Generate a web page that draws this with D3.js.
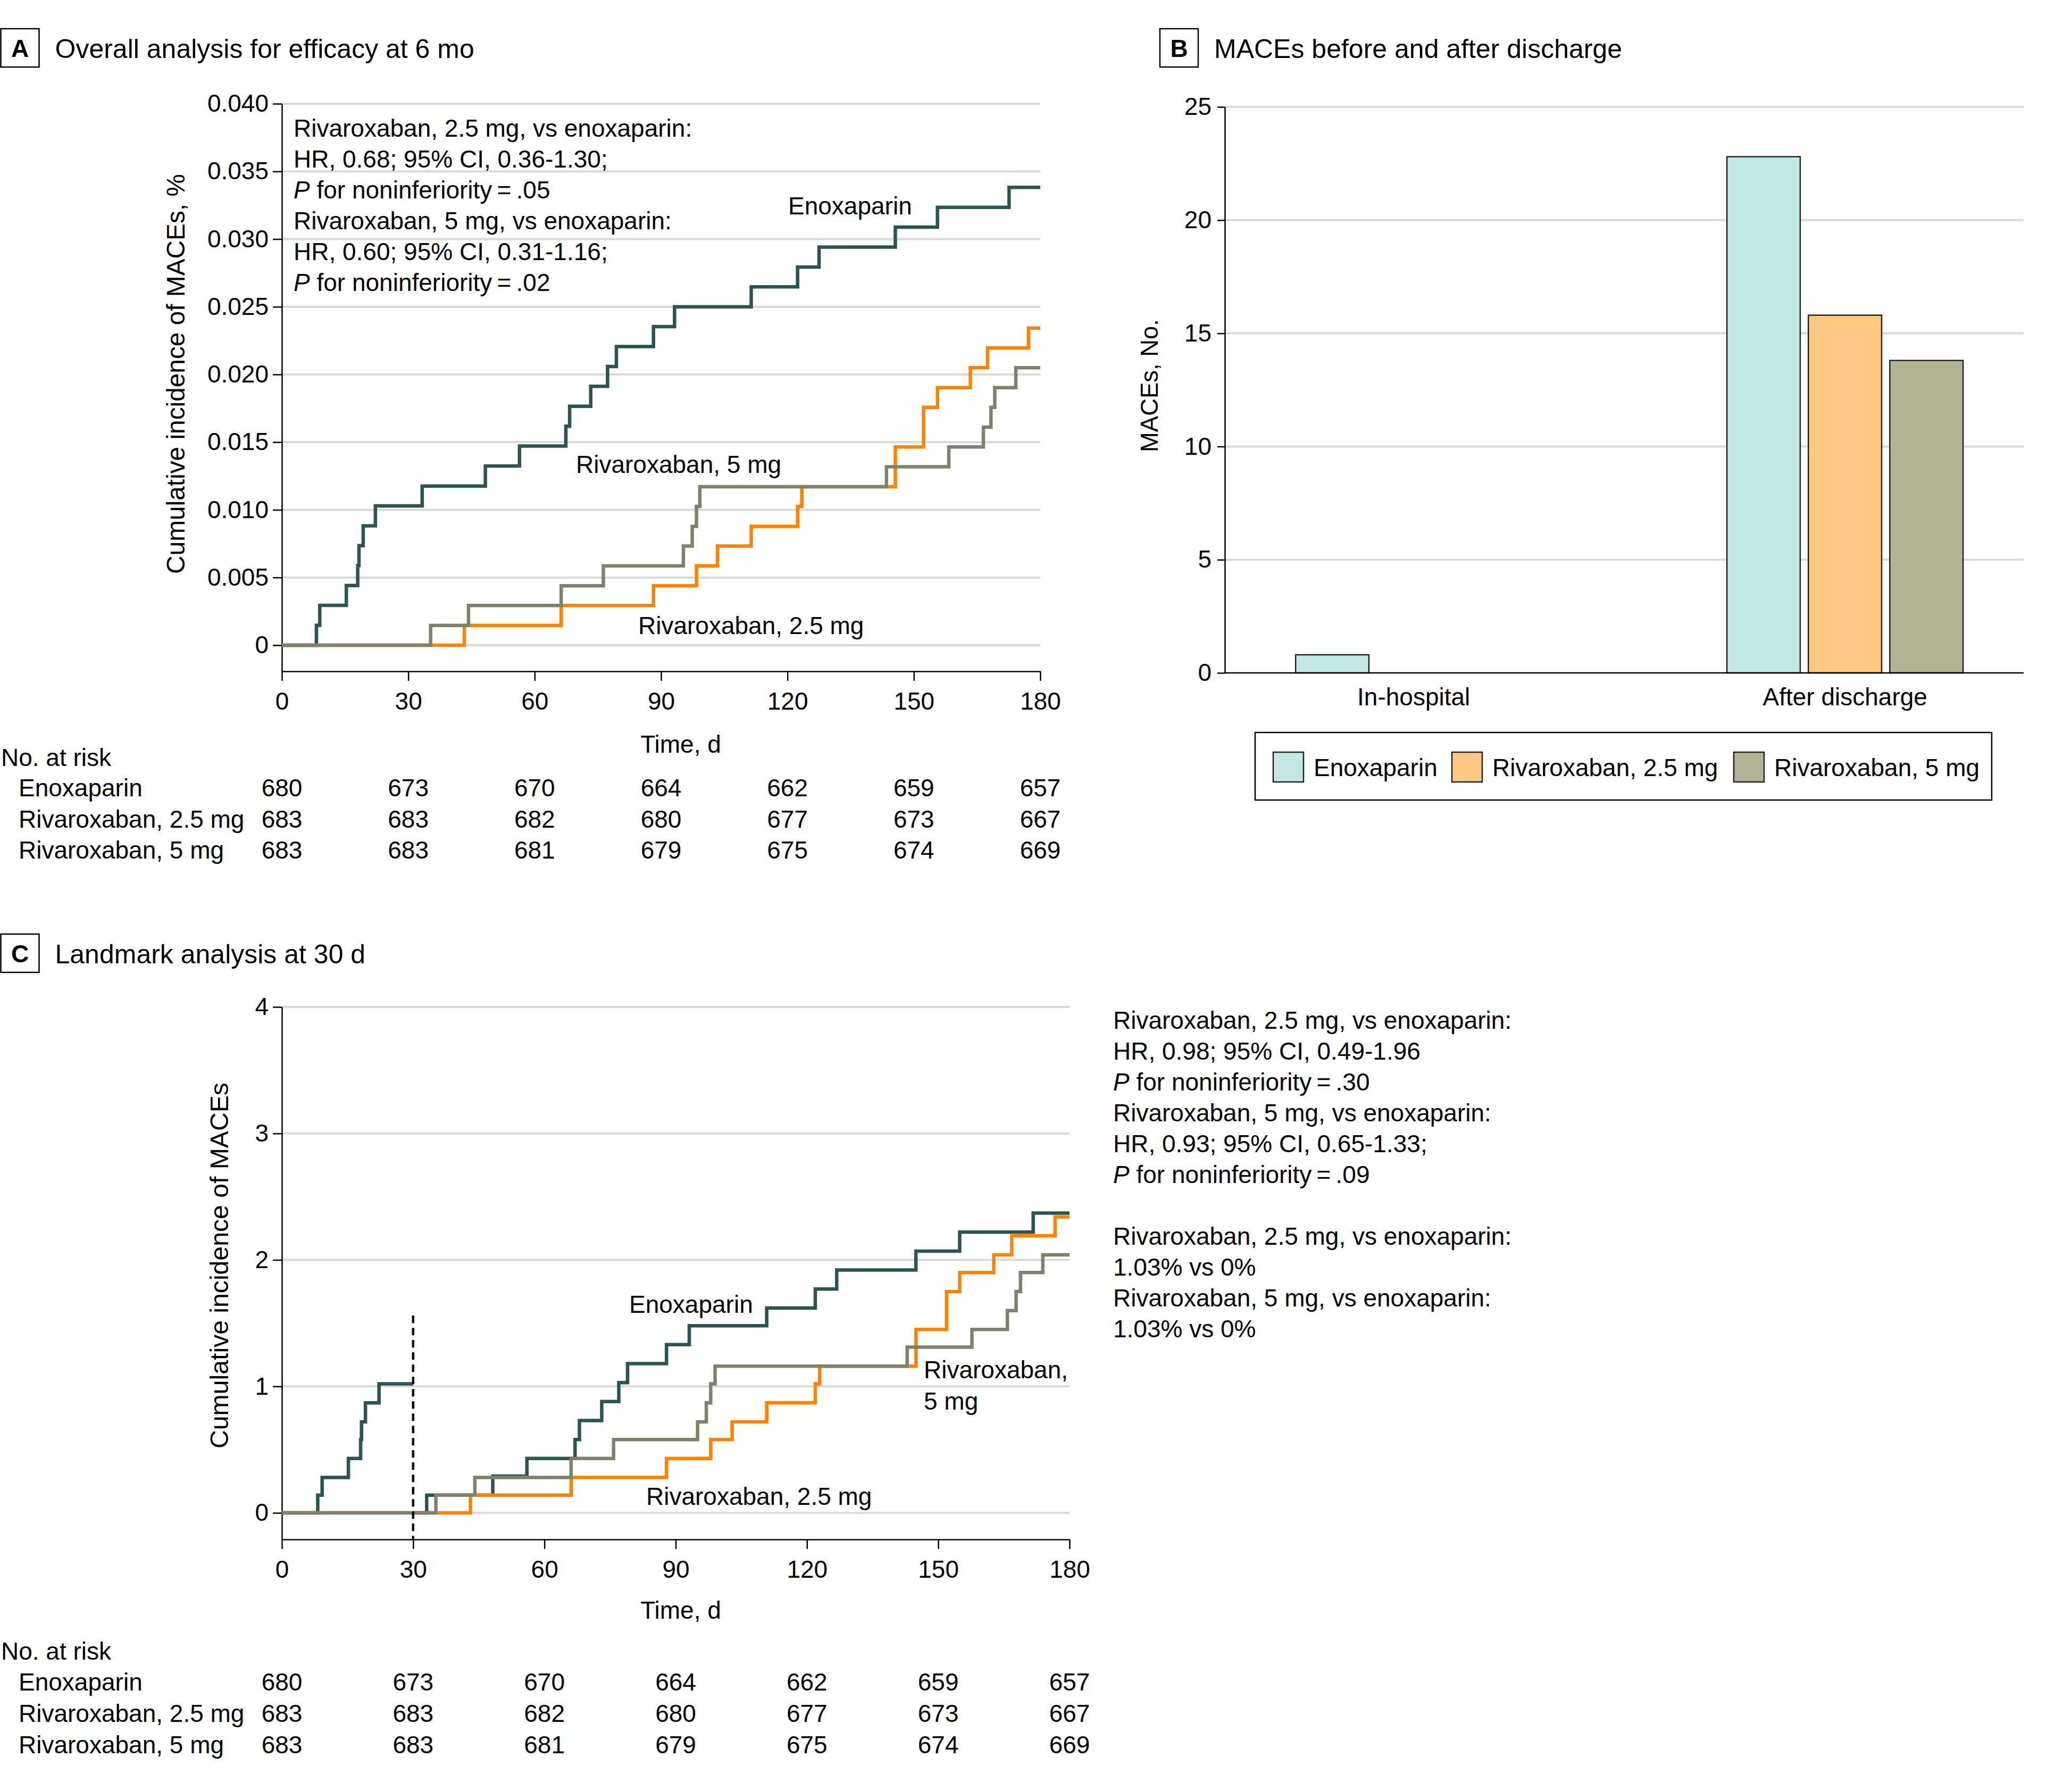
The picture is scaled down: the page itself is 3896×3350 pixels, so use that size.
<!DOCTYPE html>
<html><head><meta charset="utf-8">
<script src="https://cdn.jsdelivr.net/npm/d3@7"></script>
<style>
body{margin:0;background:#fff}
svg{display:block}
</style></head><body>
<svg id="chart" width="3896" height="3350"></svg>
<script>
// ---------------- DATA ----------------
const groups = ["Enoxaparin", "Rivaroxaban, 2.5 mg", "Rivaroxaban, 5 mg"];
const riskDays = [0, 30, 60, 90, 120, 150, 180];
const riskEnox = [680, 673, 670, 664, 662, 659, 657];
const riskRiv25 = [683, 683, 682, 680, 677, 673, 667];
const riskRiv5 = [683, 683, 681, 679, 675, 674, 669];

const yTicksA = [0, 0.005, 0.010, 0.015, 0.020, 0.025, 0.030, 0.035, 0.040];
const yTickLabelsA = ["0", "0.005", "0.010", "0.015", "0.020", "0.025", "0.030", "0.035", "0.040"];
const yTicksC = [0, 1, 2, 3, 4];
const yTicksB = [0, 5, 10, 15, 20, 25];

// Panel A step curves (day of event, cumulative incidence after it)
const enoxA_t = [0, 8.2, 9.0, 15.3, 18.0, 18.3, 19.3, 22.2, 33.3, 48.3, 56.4, 67.4, 68.3, 73.3, 77.3, 79.4, 88.2, 93.2, 111.4, 122.4, 127.5, 145.6, 155.6, 172.6, 180];
const enoxA_v = [0, 0.00147, 0.00294, 0.00441, 0.00588, 0.00735, 0.00882, 0.01029, 0.01176, 0.01324, 0.01471, 0.01618, 0.01765, 0.01912, 0.02059, 0.02206, 0.02353, 0.02500, 0.02647, 0.02794, 0.02941, 0.03088, 0.03235, 0.03382, 0.03382];
const riv25A_t = [0, 43.3, 66.3, 88.2, 98.4, 103.4, 111.4, 122.4, 123.4, 145.6, 152.3, 155.6, 163.4, 167.5, 177.2, 180];
const riv25A_v = [0, 0.00146, 0.00293, 0.00439, 0.00586, 0.00732, 0.00878, 0.01025, 0.01171, 0.01464, 0.01757, 0.01903, 0.02050, 0.02196, 0.02343, 0.02343];
const riv5A_t = [0, 35.3, 44.3, 66.3, 76.3, 95.3, 97.4, 98.4, 99.2, 143.5, 158.3, 166.5, 168.3, 169.2, 174.2, 180];
const riv5A_v = [0, 0.00146, 0.00293, 0.00439, 0.00586, 0.00732, 0.00878, 0.01025, 0.01171, 0.01318, 0.01464, 0.01611, 0.01757, 0.01903, 0.02050, 0.02050];

// Panel C landmark curves
const enoxC1_t = [0, 8.2, 9.2, 15.2, 18.0, 18.2, 19.1, 22.2, 30];
const enoxC1_v = [0, 0.14, 0.28, 0.43, 0.58, 0.72, 0.87, 1.02, 1.02];
const enoxC2_t = [30, 33.1, 48.2, 56.0, 67.0, 68.0, 73.1, 77.0, 79.0, 87.9, 93.1, 110.8, 121.9, 126.8, 144.9, 154.9, 171.7, 180];
const enoxC2_v = [0, 0.14, 0.29, 0.43, 0.58, 0.73, 0.88, 1.03, 1.18, 1.33, 1.48, 1.62, 1.77, 1.92, 2.07, 2.22, 2.37, 2.37];
const riv25C_t = [0, 43.1, 66.1, 87.9, 98.0, 102.9, 110.8, 121.9, 122.9, 144.9, 151.9, 154.9, 162.7, 166.8, 176.7, 180];
const riv25C_v = [0, 0.14, 0.28, 0.43, 0.58, 0.72, 0.87, 1.02, 1.16, 1.45, 1.75, 1.90, 2.04, 2.19, 2.34, 2.34];
const riv5C_t = [0, 35.2, 44.1, 66.1, 75.8, 95.0, 97.0, 98.0, 99.0, 142.9, 157.7, 165.8, 167.8, 168.8, 173.9, 180];
const riv5C_v = [0, 0.14, 0.28, 0.43, 0.58, 0.72, 0.87, 1.02, 1.16, 1.31, 1.45, 1.60, 1.75, 1.90, 2.04, 2.04];
const landmarkDay = 30;
const landmarkTop = 1.56;

// Panel B bars
const barCategories = ["In-hospital", "After discharge"];
const barEnox = [0.8, 22.8];
const barRiv25 = [0, 15.8];
const barRiv5 = [0, 13.8];

// Text
const annotA = [
  ["", "Rivaroxaban, 2.5 mg, vs enoxaparin:"],
  ["", "HR, 0.68; 95% CI, 0.36-1.30;"],
  ["P", " for noninferiority\u2009=\u2009.05"],
  ["", "Rivaroxaban, 5 mg, vs enoxaparin:"],
  ["", "HR, 0.60; 95% CI, 0.31-1.16;"],
  ["P", " for noninferiority\u2009=\u2009.02"]
];
const annotC = [
  ["", "Rivaroxaban, 2.5 mg, vs enoxaparin:"],
  ["", "HR, 0.98; 95% CI, 0.49-1.96"],
  ["P", " for noninferiority\u2009=\u2009.30"],
  ["", "Rivaroxaban, 5 mg, vs enoxaparin:"],
  ["", "HR, 0.93; 95% CI, 0.65-1.33;"],
  ["P", " for noninferiority\u2009=\u2009.09"],
  null,
  ["", "Rivaroxaban, 2.5 mg, vs enoxaparin:"],
  ["", "1.03% vs 0%"],
  ["", "Rivaroxaban, 5 mg, vs enoxaparin:"],
  ["", "1.03% vs 0%"]
];

// ---------------- STYLE ----------------
const FONT = '"Liberation Sans", Arial, sans-serif';
const FONT_AX = '"Liberation Sans Narrow", "Liberation Sans", Arial, sans-serif';
const FS = 46;
const colLine = {enox: "#2b5552", r25: "#ff8200", r5: "#80806b"};
const colBar = ["#c2e7e4", "#fec883", "#b1b394"];
const GRID = "#d9d9d9";
const LW = 6.5;

const svg = d3.select("#chart");
svg.append("rect").attr("width", 3896).attr("height", 3350).attr("fill", "#fff");

function txt(g, x, y, s, o = {}) {
  const t = g.append("text").attr("x", x).attr("y", y).attr("dy", o.dy ?? "0.35em")
    .attr("font-family", o.family || FONT).attr("font-size", o.size || FS)
    .attr("fill", "#000").attr("text-anchor", o.anchor || "start");
  if (o.weight) t.attr("font-weight", o.weight);
  if (o.rotate) t.attr("transform", `rotate(-90,${x},${y})`);
  t.text(s);
  return t;
}
// axis title: font size chosen so the rendered length matches the reference span
function axisTitle(g, x, y, s, span) {
  const t = txt(g, x, y, s, {anchor: "middle", rotate: true, family: FONT_AX, size: 50});
  const L = t.node().getComputedTextLength();
  if (L > 0) t.attr("font-size", 50 * span / L);
  return t;
}
function panelTitle(x, y, letter, title) {
  svg.append("rect").attr("x", x).attr("y", y).attr("width", 72).attr("height", 72)
    .attr("fill", "none").attr("stroke", "#000").attr("stroke-width", 2.5);
  txt(svg, x + 36, y + 37, letter, {anchor: "middle", weight: "bold", size: 46});
  txt(svg, x + 102, y + 37, title, {size: 50});
}
function zip(t, v) { return t.map((d, i) => [d, v[i]]); }

function styleAxis(sel) {
  sel.selectAll("path.domain").attr("stroke", "#000").attr("stroke-width", 2.5);
  sel.selectAll(".tick line").attr("stroke", "#000").attr("stroke-width", 2.5);
  sel.selectAll(".tick text").attr("font-family", FONT).attr("font-size", FS).attr("fill", "#000");
}

function kmPanel(cfg) {
  const g = svg.append("g");
  const x = d3.scaleLinear().domain([0, 180]).range([cfg.x0, cfg.x1]);
  const y = d3.scaleLinear().domain(cfg.ydom).range([cfg.yb, cfg.yt]);
  g.selectAll("line.grid").data(cfg.yticks).join("line")
    .attr("x1", x(0)).attr("x2", x(180)).attr("y1", d => y(d)).attr("y2", d => y(d))
    .attr("stroke", GRID).attr("stroke-width", 4);
  const ya = g.append("g").attr("transform", `translate(${x(0)},0)`)
    .call(d3.axisLeft(y).tickValues(cfg.yticks).tickFormat((d, i) => cfg.ylabels[i]).tickSize(17).tickPadding(8).tickSizeOuter(0));
  styleAxis(ya);
  const xa = g.append("g").attr("transform", `translate(0,${cfg.yb})`)
    .call(d3.axisBottom(x).tickValues(riskDays).tickFormat(d3.format("d")).tickSize(18).tickPadding(21).tickSizeOuter(0));
  styleAxis(xa);
  const line = d3.line().x(d => x(d[0])).y(d => y(d[1])).curve(d3.curveStepAfter);
  cfg.series.forEach(s => {
    g.append("path").datum(s.data).attr("d", line).attr("fill", "none")
      .attr("stroke", s.color).attr("stroke-width", LW).attr("stroke-linejoin", "miter").attr("stroke-linecap", "butt");
  });
  if (cfg.landmark) {
    g.append("line").attr("x1", x(landmarkDay)).attr("x2", x(landmarkDay))
      .attr("y1", y(landmarkTop)).attr("y2", cfg.yb)
      .attr("stroke", "#000").attr("stroke-width", 4.5).attr("stroke-dasharray", "14,9");
  }
  axisTitle(g, cfg.ylabX, cfg.ylabY, cfg.ylab, cfg.ylabSpan);
  txt(g, cfg.xlabX, cfg.xlabY, "Time, d", {anchor: "middle"});
  txt(g, 2, cfg.riskY[0], "No. at risk");
  const rows = [riskEnox, riskRiv25, riskRiv5];
  rows.forEach((r, i) => {
    txt(g, 35, cfg.riskY[i + 1], groups[i]);
    r.forEach((v, j) => txt(g, x(riskDays[j]), cfg.riskY[i + 1], v, {anchor: "middle"}));
  });
  cfg.labels.forEach(l => txt(g, l[0], l[1], l[2]));
  cfg.annot.forEach((a, i) => {
    if (!a) return;
    const t = g.append("text").attr("x", cfg.annotX).attr("y", cfg.annotY + i * cfg.annotDY).attr("dy", "0.35em")
      .attr("font-family", FONT).attr("font-size", FS).attr("fill", "#000");
    if (a[0]) t.append("tspan").attr("font-style", "italic").text(a[0]);
    t.append("tspan").text(a[1]);
  });
  return {x, y};
}

// Panel A
panelTitle(1.5, 54, "A", "Overall analysis for efficacy at 6 mo");
kmPanel({
  x0: 530, x1: 1956, yb: 1262, yt: 195, ydom: [-0.00193, 0.04],
  yticks: yTicksA, ylabels: yTickLabelsA,
  series: [
    {data: zip(enoxA_t, enoxA_v), color: colLine.enox},
    {data: zip(riv25A_t, riv25A_v), color: colLine.r25},
    {data: zip(riv5A_t, riv5A_v), color: colLine.r5}
  ],
  ylab: "Cumulative incidence of MACEs, %", ylabX: 330, ylabY: 703, ylabSpan: 752,
  xlabX: 1280, xlabY: 1399,
  riskY: [1424, 1481, 1540, 1598],
  labels: [[1482, 387, "Enoxaparin"], [1083, 873, "Rivaroxaban, 5 mg"], [1200, 1176, "Rivaroxaban, 2.5 mg"]],
  annot: annotA, annotX: 552, annotY: 241, annotDY: 58
});

// Panel C
panelTitle(1.5, 1756, "C", "Landmark analysis at 30 d");
kmPanel({
  x0: 530, x1: 2011, yb: 2894, yt: 1893, ydom: [-0.21, 4],
  yticks: yTicksC, ylabels: yTicksC.map(String),
  series: [
    {data: zip(enoxC1_t, enoxC1_v), color: colLine.enox},
    {data: zip(enoxC2_t, enoxC2_v), color: colLine.enox},
    {data: zip(riv25C_t, riv25C_v), color: colLine.r25},
    {data: zip(riv5C_t, riv5C_v), color: colLine.r5}
  ],
  landmark: true,
  ylab: "Cumulative incidence of MACEs", ylabX: 412, ylabY: 2379, ylabSpan: 688,
  xlabX: 1280, xlabY: 3027,
  riskY: [3104, 3162, 3221, 3280],
  labels: [[1183, 2452, "Enoxaparin"], [1737, 2575, "Rivaroxaban,"], [1737, 2634, "5 mg"], [1215, 2813, "Rivaroxaban, 2.5 mg"]],
  annot: annotC, annotX: 2093, annotY: 1918, annotDY: 58
});

// Panel B
panelTitle(2181, 54, "B", "MACEs before and after discharge");
(function () {
  const g = svg.append("g");
  const xL = 2303, xR = 3805, yb = 1265, yt = 201;
  const x = d3.scalePoint().domain(barCategories).range([xL, xR]).padding(0.426).align(0.514);
  const xs = d3.scaleBand().domain(groups).range([-222, 222]).paddingInner(0.1);
  const y = d3.scaleLinear().domain([0, 25]).range([yb, yt]);
  g.selectAll("line.grid").data(yTicksB.slice(1)).join("line")
    .attr("x1", xL).attr("x2", xR).attr("y1", d => y(d)).attr("y2", d => y(d))
    .attr("stroke", GRID).attr("stroke-width", 4);
  const vals = [barEnox, barRiv25, barRiv5];
  barCategories.forEach((c, ci) => {
    groups.forEach((s, si) => {
      const v = vals[si][ci];
      if (!v) return;
      g.append("rect").attr("x", x(c) + xs(s)).attr("width", xs.bandwidth())
        .attr("y", y(v)).attr("height", y(0) - y(v))
        .attr("fill", colBar[si]).attr("stroke", "#222").attr("stroke-width", 2.5);
    });
  });
  const ya = g.append("g").attr("transform", `translate(${xL},0)`)
    .call(d3.axisLeft(y).tickValues(yTicksB).tickSize(14).tickPadding(11).tickSizeOuter(0));
  styleAxis(ya);
  g.append("line").attr("x1", xL).attr("x2", xR).attr("y1", yb).attr("y2", yb)
    .attr("stroke", "#000").attr("stroke-width", 2.5);
  barCategories.forEach(c => txt(g, x(c), 1310, c, {anchor: "middle"}));
  axisTitle(g, 2161, 725, "MACEs, No.", 250);
  g.append("rect").attr("x", 2360).attr("y", 1377).attr("width", 1385).attr("height", 127)
    .attr("fill", "none").attr("stroke", "#000").attr("stroke-width", 2.5);
  const lx = [2394, 2730, 3260];
  groups.forEach((s, i) => {
    g.append("rect").attr("x", lx[i]).attr("y", 1414).attr("width", 57).attr("height", 56)
      .attr("fill", colBar[i]).attr("stroke", "#222").attr("stroke-width", 2.5);
    txt(g, lx[i] + 76, 1443, s);
  });
})();
</script>
</body></html>
